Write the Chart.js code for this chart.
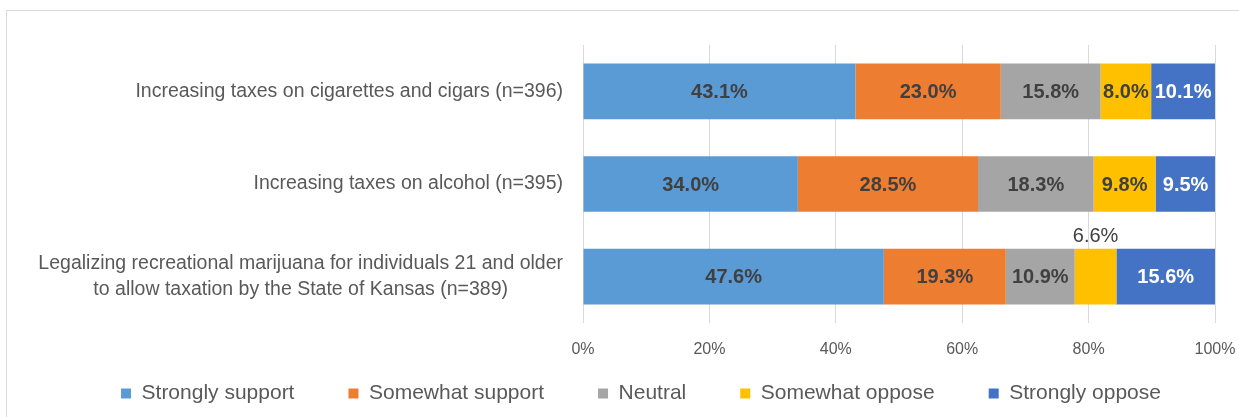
<!DOCTYPE html>
<html>
<head>
<meta charset="utf-8">
<script src="https://cdn.jsdelivr.net/npm/chart.js@4"></script>
<style>
  html, body { margin: 0; padding: 0; background: #fff; overflow: hidden; }
  #frame { position: absolute; left: 6px; top: 10px; width: 1268px; height: 420px; border: 1px solid #d9d9d9; }
  #wrap { position: relative; width: 1268px; height: 406px; }
</style>
</head>
<body>
<div id="frame"><div id="wrap"><canvas id="chart"></canvas></div></div>
<script>
const categories = [
    'Increasing taxes on cigarettes and cigars (n=396)',
    'Increasing taxes on alcohol (n=395)',
    ['Legalizing recreational marijuana for individuals 21 and older', 'to allow taxation by the State of Kansas (n=389)']
];
const seriesNames = ['Strongly support', 'Somewhat support', 'Neutral', 'Somewhat oppose', 'Strongly oppose'];
const stronglySupport = [43.1, 34.0, 47.6];
const somewhatSupport = [23.0, 28.5, 19.3];
const neutral = [15.8, 18.3, 10.9];
const somewhatOppose = [8.0, 9.8, 6.6];
const stronglyOppose = [10.1, 9.5, 15.6];
const xTicks = [0, 20, 40, 60, 80, 100];

const colors = ['#5B9BD5', '#ED7D31', '#A5A5A5', '#FFC000', '#4472C4'];
const labelColors = ['#404040', '#404040', '#404040', '#404040', '#ffffff'];
const FONT = '"Liberation Sans", Arial, sans-serif';

// value labels inside the segments (or above when they don't fit)
const barLabels = {
    id: 'barLabels',
    afterDatasetsDraw(chart) {
        const ctx = chart.ctx;
        ctx.save();
        ctx.textAlign = 'center';
        chart.data.datasets.forEach((ds, i) => {
            chart.getDatasetMeta(i).data.forEach((bar, j) => {
                const txt = ds.data[j].toFixed(1) + '%';
                const x = (bar.x + bar.base) / 2;
                const w = Math.abs(bar.x - bar.base);
                ctx.font = 'bold 20px ' + FONT;
                if (ctx.measureText(txt).width > w - 2) {
                    ctx.font = '20px ' + FONT;
                    ctx.fillStyle = '#404040';
                    ctx.textBaseline = 'bottom';
                    ctx.fillText(txt, x, bar.y - bar.height / 2 - 2);
                } else {
                    ctx.fillStyle = labelColors[i];
                    ctx.textBaseline = 'middle';
                    ctx.fillText(txt, x, bar.y + 1);
                }
            });
        });
        ctx.restore();
    }
};

// category labels: right-aligned block, lines centred inside it
const catLabels = {
    id: 'catLabels',
    afterDraw(chart) {
        const ctx = chart.ctx;
        const yScale = chart.scales.y;
        const right = chart.chartArea.left - 20;
        ctx.save();
        ctx.font = '19.5px ' + FONT;
        ctx.fillStyle = '#595959';
        ctx.textAlign = 'center';
        ctx.textBaseline = 'middle';
        categories.forEach((lab, i) => {
            const lines = Array.isArray(lab) ? lab : [lab];
            const w = Math.max(...lines.map(l => ctx.measureText(l).width));
            const cy = yScale.getPixelForValue(i);
            lines.forEach((l, k) => {
                ctx.fillText(l, right - w / 2, cy + (k - (lines.length - 1) / 2) * 26);
            });
        });
        ctx.restore();
    }
};

// the wide legend padding also pushes the row down; lift its top up
// (bottom stays so the legend's clip box still holds the text)
const legendShift = {
    id: 'legendShift',
    afterLayout(chart) {
        chart.legend.top -= 30;
    }
};

const seriesData = [stronglySupport, somewhatSupport, neutral, somewhatOppose, stronglyOppose];

new Chart(document.getElementById('chart'), {
    type: 'bar',
    data: {
        labels: categories,
        datasets: seriesNames.map((name, i) => ({
            label: name,
            data: seriesData[i],
            backgroundColor: colors[i],
            borderWidth: 0,
            categoryPercentage: 0.6,
            barPercentage: 1
        }))
    },
    options: {
        indexAxis: 'y',
        responsive: true,
        maintainAspectRatio: false,
        animation: false,
        layout: { padding: { top: 34, right: 60, left: 60, bottom: 0 } },
        scales: {
            x: {
                stacked: true,
                min: 0,
                max: 100,
                afterBuildTicks: s => { s.ticks = xTicks.map(v => ({ value: v })); },
                afterFit: s => { s.height = 36; },
                ticks: {
                    callback: v => v + '%',
                    color: '#595959',
                    font: { family: FONT, size: 16 },
                    padding: 17,
                    maxRotation: 0
                },
                grid: { color: '#d9d9d9', drawTicks: false },
                border: { display: false }
            },
            y: {
                stacked: true,
                afterFit: s => { s.width = 516; },
                ticks: { display: false },
                grid: { display: false },
                border: { display: false }
            }
        },
        plugins: {
            legend: {
                position: 'bottom',
                maxHeight: 58,
                labels: {
                    boxWidth: 10,
                    boxHeight: 10,
                    padding: 54,
                    color: '#595959',
                    font: { family: FONT, size: 21 }
                }
            },
            tooltip: { enabled: false }
        }
    },
    plugins: [barLabels, catLabels, legendShift]
});
</script>
</body>
</html>
